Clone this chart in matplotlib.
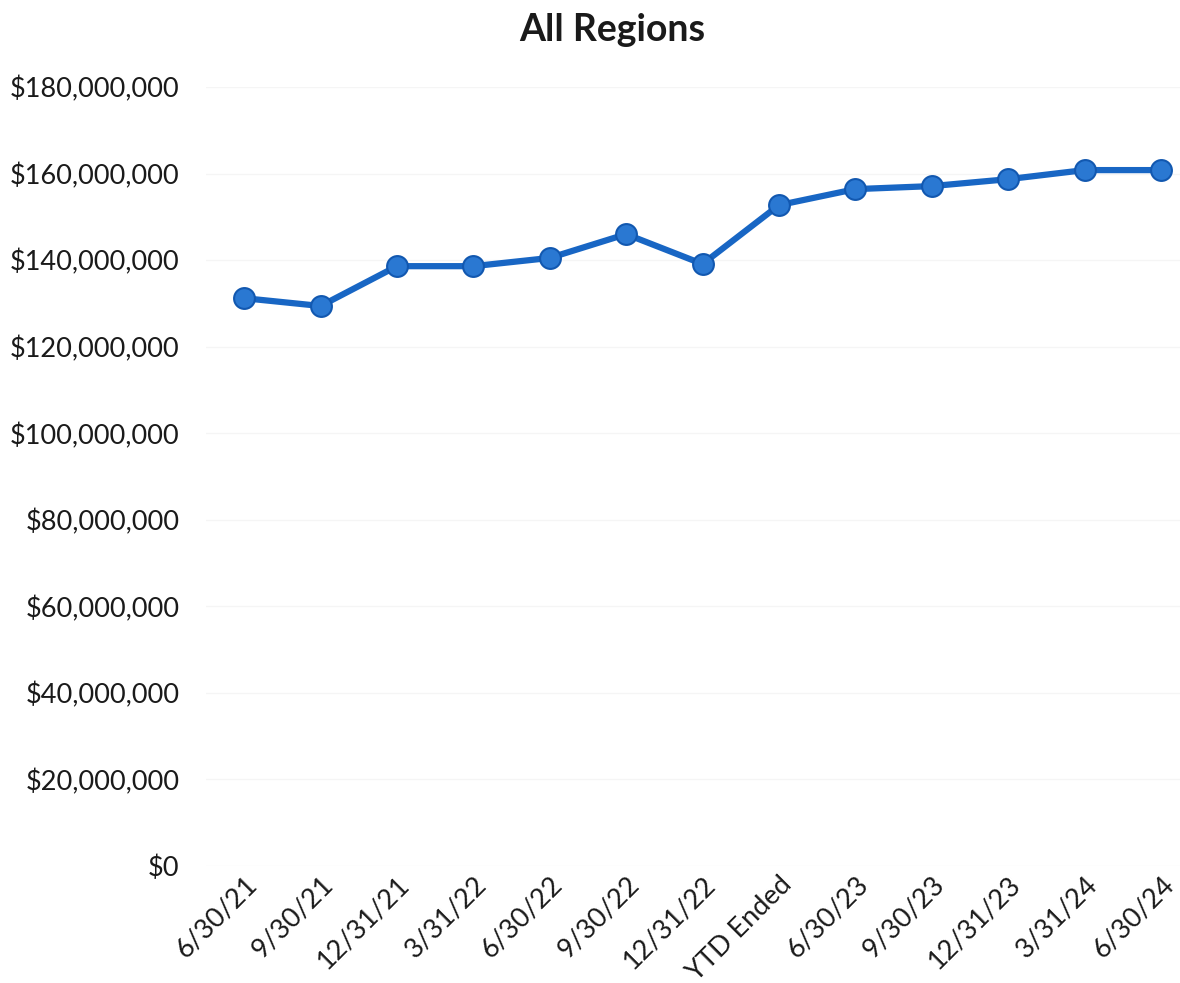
import matplotlib.pyplot as plt
from matplotlib.ticker import FuncFormatter

# Data
periods = ['6/30/21', '9/30/21', '12/31/21', '3/31/22', '6/30/22', '9/30/22',
           '12/31/22', 'YTD Ended', '6/30/23', '9/30/23', '12/31/23', '3/31/24',
           '6/30/24']
values = [131.2e6, 129.4e6, 138.6e6, 138.6e6, 140.5e6, 146.0e6,
          139.1e6, 152.7e6, 156.4e6, 157.1e6, 158.7e6, 160.8e6, 160.8e6]
y_ticks = list(range(0, 180000001, 20000000))

plt.rcParams['font.family'] = ['Lato', 'DejaVu Sans']

fig = plt.figure(figsize=(11.8, 9.83), dpi=100)
ax = fig.add_axes([206 / 1180, 117 / 983, 1 - 206 / 1180, (866 - 87) / 983])

x = list(range(len(periods)))
ax.plot(x, values, color='#1866c4', linewidth=4.5, marker='o', markersize=15,
        markerfacecolor='#2a78d2', markeredgecolor='#1258b0', markeredgewidth=1.5,
        solid_capstyle='round')

ax.set_xlim(-0.5, 12.25)
ax.set_ylim(0, 180000000)
ax.set_yticks(y_ticks)
ax.yaxis.set_major_formatter(FuncFormatter(lambda v, p: '${:,.0f}'.format(v)))
ax.set_xticks(x)
ax.set_xticklabels(periods, rotation=45, ha='right', rotation_mode='anchor')

ax.tick_params(axis='y', length=0, labelsize=19.5, pad=19, colors='#1a1a1a')
ax.tick_params(axis='x', length=0, labelsize=19.5, pad=4, colors='#1a1a1a')
ax.grid(axis='y', color='#f5f5f5', linewidth=1)
ax.set_axisbelow(True)
for s in ax.spines.values():
    s.set_visible(False)

fig.text(0.519, 0.969, 'All Regions', ha='center', va='center',
         fontsize=27, fontweight='bold', color='#1a1a1a')

fig.savefig('out.png', dpi=100)
